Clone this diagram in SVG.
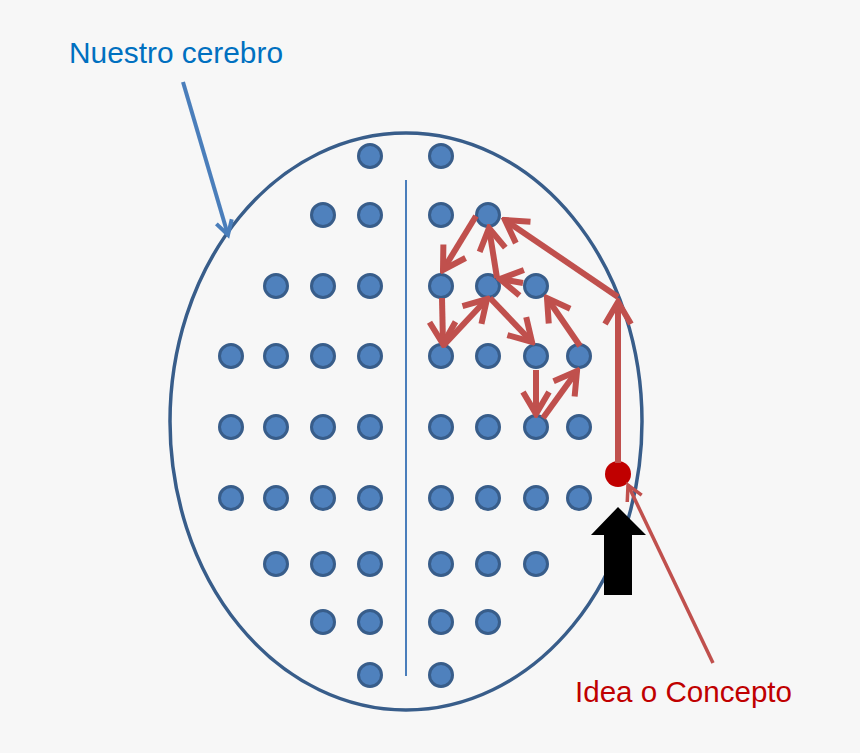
<svg xmlns="http://www.w3.org/2000/svg" width="860" height="753" viewBox="0 0 860 753">
<style>
.dot{fill:#4f81bd;stroke:#385d8a;stroke-width:3}
.red{stroke:#c0504d;stroke-width:6;fill:none}
.lbl{font-family:"Liberation Sans",Arial,sans-serif;font-size:29px}
</style>
<defs>
<marker id="rh" viewBox="-30 -18 34 36" markerWidth="34" markerHeight="36" refX="0" refY="0" orient="auto" markerUnits="userSpaceOnUse">
<path d="M-22,-13 L0,0 L-22,13" fill="none" stroke="#c0504d" stroke-width="6"/>
</marker>
<marker id="rhs" viewBox="-20 -12 24 24" markerWidth="24" markerHeight="24" refX="0" refY="0" orient="auto" markerUnits="userSpaceOnUse">
<path d="M-15,-8 L0,0 L-15,8" fill="none" stroke="#c0504d" stroke-width="3.5"/>
</marker>
<marker id="bh" viewBox="-20 -12 24 24" markerWidth="24" markerHeight="24" refX="0" refY="0" orient="auto" markerUnits="userSpaceOnUse">
<path d="M-14,-8 L0,0 L-14,8" fill="none" stroke="#4a7ebb" stroke-width="4"/>
</marker>
</defs>
<rect width="860" height="753" fill="#f7f7f7"/>
<g id="brain">
<ellipse cx="406" cy="421.5" rx="236" ry="288.5" fill="none" stroke="#385d8a" stroke-width="3.5"/>
<line x1="406" y1="180" x2="406" y2="676" stroke="#4a7ebb" stroke-width="2"/>
</g>
<g id="dots">
<g id="n1-1"><circle class="dot" cx="370" cy="156" r="11.5"/></g>
<g id="n1-2"><circle class="dot" cx="441" cy="156" r="11.5"/></g>
<g id="n2-1"><circle class="dot" cx="323" cy="215" r="11.5"/></g>
<g id="n2-2"><circle class="dot" cx="370" cy="215" r="11.5"/></g>
<g id="n2-3"><circle class="dot" cx="441" cy="215" r="11.5"/></g>
<g id="n2-4"><circle class="dot" cx="488" cy="215" r="11.5"/></g>
<g id="n3-1"><circle class="dot" cx="276" cy="286" r="11.5"/></g>
<g id="n3-2"><circle class="dot" cx="323" cy="286" r="11.5"/></g>
<g id="n3-3"><circle class="dot" cx="370" cy="286" r="11.5"/></g>
<g id="n3-4"><circle class="dot" cx="441" cy="286" r="11.5"/></g>
<g id="n3-5"><circle class="dot" cx="488" cy="286" r="11.5"/></g>
<g id="n3-6"><circle class="dot" cx="536" cy="286" r="11.5"/></g>
<g id="n4-1"><circle class="dot" cx="231" cy="356" r="11.5"/></g>
<g id="n4-2"><circle class="dot" cx="276" cy="356" r="11.5"/></g>
<g id="n4-3"><circle class="dot" cx="323" cy="356" r="11.5"/></g>
<g id="n4-4"><circle class="dot" cx="370" cy="356" r="11.5"/></g>
<g id="n4-5"><circle class="dot" cx="441" cy="356" r="11.5"/></g>
<g id="n4-6"><circle class="dot" cx="488" cy="356" r="11.5"/></g>
<g id="n4-7"><circle class="dot" cx="536" cy="356" r="11.5"/></g>
<g id="n4-8"><circle class="dot" cx="579" cy="356" r="11.5"/></g>
<g id="n5-1"><circle class="dot" cx="231" cy="427" r="11.5"/></g>
<g id="n5-2"><circle class="dot" cx="276" cy="427" r="11.5"/></g>
<g id="n5-3"><circle class="dot" cx="323" cy="427" r="11.5"/></g>
<g id="n5-4"><circle class="dot" cx="370" cy="427" r="11.5"/></g>
<g id="n5-5"><circle class="dot" cx="441" cy="427" r="11.5"/></g>
<g id="n5-6"><circle class="dot" cx="488" cy="427" r="11.5"/></g>
<g id="n5-7"><circle class="dot" cx="536" cy="427" r="11.5"/></g>
<g id="n5-8"><circle class="dot" cx="579" cy="427" r="11.5"/></g>
<g id="n6-1"><circle class="dot" cx="231" cy="498" r="11.5"/></g>
<g id="n6-2"><circle class="dot" cx="276" cy="498" r="11.5"/></g>
<g id="n6-3"><circle class="dot" cx="323" cy="498" r="11.5"/></g>
<g id="n6-4"><circle class="dot" cx="370" cy="498" r="11.5"/></g>
<g id="n6-5"><circle class="dot" cx="441" cy="498" r="11.5"/></g>
<g id="n6-6"><circle class="dot" cx="488" cy="498" r="11.5"/></g>
<g id="n6-7"><circle class="dot" cx="536" cy="498" r="11.5"/></g>
<g id="n6-8"><circle class="dot" cx="579" cy="498" r="11.5"/></g>
<g id="n7-1"><circle class="dot" cx="276" cy="564" r="11.5"/></g>
<g id="n7-2"><circle class="dot" cx="323" cy="564" r="11.5"/></g>
<g id="n7-3"><circle class="dot" cx="370" cy="564" r="11.5"/></g>
<g id="n7-4"><circle class="dot" cx="441" cy="564" r="11.5"/></g>
<g id="n7-5"><circle class="dot" cx="488" cy="564" r="11.5"/></g>
<g id="n7-6"><circle class="dot" cx="536" cy="564" r="11.5"/></g>
<g id="n8-1"><circle class="dot" cx="323" cy="622" r="11.5"/></g>
<g id="n8-2"><circle class="dot" cx="370" cy="622" r="11.5"/></g>
<g id="n8-3"><circle class="dot" cx="441" cy="622" r="11.5"/></g>
<g id="n8-4"><circle class="dot" cx="488" cy="622" r="11.5"/></g>
<g id="n9-1"><circle class="dot" cx="370" cy="675" r="11.5"/></g>
<g id="n9-2"><circle class="dot" cx="441" cy="675" r="11.5"/></g>
</g>
<g id="idea-dot"><circle cx="618" cy="474" r="13" fill="#c00000"/></g>
<g id="input-arrow"><polygon points="618,507 646,535 632,535 632,595 604,595 604,535 591,535" fill="#000"/></g>
<g id="connectors">
<line class="red" x1="618" y1="463" x2="618" y2="302" marker-end="url(#rh)"/>
<line class="red" x1="618" y1="297" x2="505" y2="220" marker-end="url(#rh)"/>
<line class="red" x1="476" y1="216" x2="443" y2="270" marker-end="url(#rh)"/>
<line class="red" x1="497" y1="278" x2="489" y2="228" marker-end="url(#rh)"/>
<line class="red" x1="523" y1="283" x2="500" y2="279" marker-end="url(#rh)"/>
<line class="red" x1="442" y1="298" x2="443" y2="344" marker-end="url(#rh)"/>
<line class="red" x1="443" y1="346" x2="487" y2="299" marker-end="url(#rh)"/>
<line class="red" x1="490" y1="298" x2="532" y2="342" marker-end="url(#rh)"/>
<line class="red" x1="580" y1="346" x2="547" y2="298" marker-end="url(#rh)"/>
<line class="red" x1="536" y1="370" x2="536" y2="414" marker-end="url(#rh)"/>
<line class="red" x1="543" y1="418" x2="577" y2="371" marker-end="url(#rh)"/>
<line x1="713" y1="663" x2="628" y2="485" stroke="#c0504d" stroke-width="3.5" marker-end="url(#rhs)"/>
<line x1="183" y1="82" x2="228" y2="235" stroke="#4a7ebb" stroke-width="4" marker-end="url(#bh)"/>
</g>
<g id="labels">
<text class="lbl" x="69" y="63" fill="#0070c0" textLength="214" lengthAdjust="spacingAndGlyphs">Nuestro cerebro</text>
<text class="lbl" x="575" y="702" fill="#c00000" textLength="217" lengthAdjust="spacingAndGlyphs">Idea o Concepto</text>
</g>
</svg>
